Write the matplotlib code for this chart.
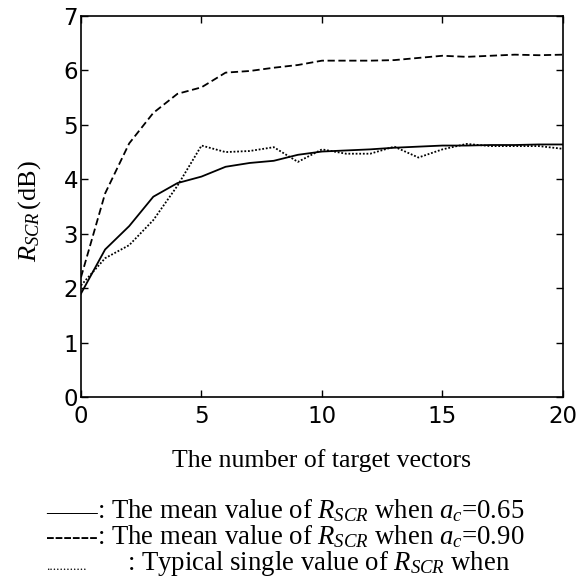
import numpy as np
import matplotlib
matplotlib.use('Agg')
import matplotlib.pyplot as plt

plt.rcParams['mathtext.fontset'] = 'custom'
plt.rcParams['mathtext.rm'] = 'Liberation Serif'
plt.rcParams['mathtext.it'] = 'Liberation Serif:italic'

# number of target vectors
n_vec = np.arange(0, 21)

# mean R_SCR, a_c = 0.65
r_mean_065 = [1.90, 2.71, 3.14, 3.68, 3.93, 4.05, 4.23, 4.30, 4.34, 4.45, 4.51,
              4.53, 4.55, 4.58, 4.60, 4.62, 4.62, 4.63, 4.63, 4.64, 4.64]
# mean R_SCR, a_c = 0.90
r_mean_090 = [2.20, 3.74, 4.66, 5.22, 5.57, 5.69, 5.96, 5.99, 6.05, 6.10, 6.18,
              6.18, 6.18, 6.19, 6.23, 6.27, 6.25, 6.27, 6.29, 6.28, 6.29]
# typical single value
r_single = [2.05, 2.55, 2.79, 3.25, 3.88, 4.62, 4.50, 4.52, 4.59, 4.32, 4.55,
            4.47, 4.47, 4.60, 4.40, 4.55, 4.65, 4.61, 4.61, 4.61, 4.56]

legend_lines = ['——', '------', '............']
legend_texts = [r': The mean value of $R_{SCR}$ when $a_c$=0.65',
                r': The mean value of $R_{SCR}$ when $a_c$=0.90',
                r': Typical single value of $R_{SCR}$ when']

fig = plt.figure(figsize=(5.84, 5.87), dpi=100)
ax = fig.add_axes([0.1387, 0.3237, 0.8253, 0.649])

ax.plot(n_vec, r_mean_065, color='black', linestyle='-', linewidth=1.3)
ax.plot(n_vec, r_mean_090, color='black', linestyle=(0, (4, 2)), linewidth=1.3)
ax.plot(n_vec, r_single, color='black', linestyle=(0, (1, 1)), linewidth=1.3)

ax.set_xlim(0, 20)
ax.set_ylim(0, 7)
ax.set_xticks([0, 5, 10, 15, 20])
ax.set_yticks(range(0, 8))
ax.tick_params(direction='in', top=True, right=True, length=5, width=1,
               labelsize=16.5)
ax.tick_params(axis='x', pad=6)
ax.tick_params(axis='y', pad=2)
for s in ax.spines.values():
    s.set_linewidth(1.2)

fig.text(30 / 584, 1 - 211 / 587, r'$R_{SCR}\,$(dB)', family='Liberation Serif',
         fontsize=19, rotation=90, ha='center', va='center')
fig.text(322 / 584, 1 - 461 / 587, 'The number of target vectors',
         family='Liberation Serif', fontsize=18.5, ha='center', va='center')

ys = [518, 544, 570]
for i in range(3):
    fs = 18.5 if i < 2 else 9.5
    fig.text(46 / 584, 1 - ys[i] / 587, legend_lines[i],
             family='Liberation Serif', fontsize=fs, ha='left', va='baseline')
    x_txt = 97 if i < 2 else 127
    fig.text(x_txt / 584, 1 - ys[i] / 587, legend_texts[i],
             family='Liberation Serif', fontsize=19.3, ha='left', va='baseline')

fig.savefig('out.png', dpi=100)
